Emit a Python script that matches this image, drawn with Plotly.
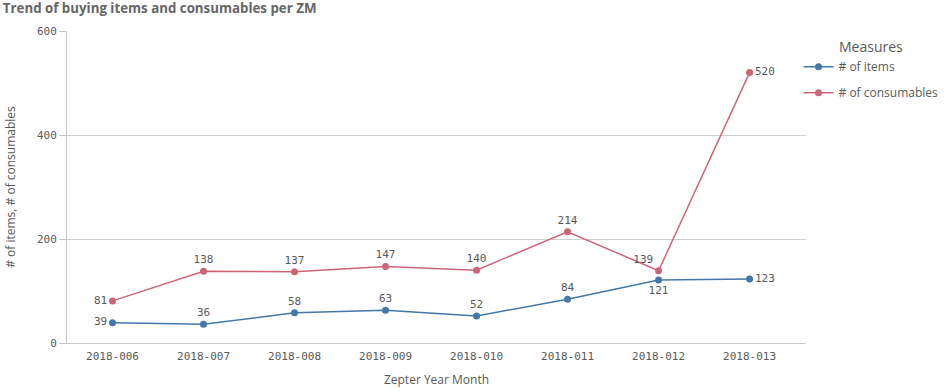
import plotly.graph_objects as go

months = ["2018-006", "2018-007", "2018-008", "2018-009", "2018-010", "2018-011", "2018-012", "2018-013"]
items = [39, 36, 58, 63, 52, 84, 121, 123]
consumables = [81, 138, 137, 147, 140, 214, 139, 520]
y_ticks = [0, 200, 400, 600]

items_pos = ["middle left", "top center", "top center", "top center", "top center", "top center", "bottom center", "middle right"]
cons_pos = ["middle left", "top center", "top center", "top center", "top center", "top center", "top left", "middle right"]

BLUE = "#4477aa"
RED = "#cc6677"
GRAY = "#595959"
MONO = "DejaVu Sans Mono"
SANS = "Open Sans"

fig = go.Figure()
fig.add_trace(go.Scatter(
    x=months, y=items, name="# of items", mode="lines+markers+text",
    legendgroup="items",
    line=dict(color=BLUE, width=1.5), marker=dict(color=BLUE, size=7),
    text=[str(v) for v in items], textposition=items_pos,
    textfont=dict(family=MONO, size=11, color=GRAY), cliponaxis=False,
))
fig.add_trace(go.Scatter(
    x=months, y=consumables, name="# of consumables", mode="lines+markers+text",
    legendgroup="consumables",
    line=dict(color=RED, width=1.5), marker=dict(color=RED, size=7),
    text=[str(v) for v in consumables], textposition=cons_pos,
    textfont=dict(family=MONO, size=11, color=GRAY), cliponaxis=False,
))

fig.update_layout(
    width=945, height=392,
    margin=dict(l=67, r=139, t=31, b=49, autoexpand=False),
    paper_bgcolor="white", plot_bgcolor="white",
    title=dict(text="<b>Trend of buying items and consumables per ZM</b>",
               x=0.003, xanchor="left", y=0.99, yanchor="top",
               font=dict(family=SANS, size=13.3, color="#666666")),
    legend=dict(title=dict(text="Measures", side="top center",
                           font=dict(family=SANS, size=14, color=GRAY)),
                font=dict(family=SANS, size=12, color=GRAY),
                xref="container", yref="container",
                x=0.845, xanchor="left", y=0.913, yanchor="top",
                itemwidth=30, tracegroupgap=7, bgcolor="rgba(0,0,0,0)"),
    xaxis=dict(type="category", range=[-0.5, 7.62], showgrid=False,
               showline=True, linecolor="#c8c8c8", linewidth=1,
               ticks="", ticklabelstandoff=3,
               tickfont=dict(family=MONO, size=11, color=GRAY),
               automargin=False,
               title=dict(text="Zepter Year Month", standoff=13,
                          font=dict(family=SANS, size=12, color=GRAY))),
    yaxis=dict(range=[0, 600], tickvals=y_ticks, showgrid=True,
               gridcolor="#d0d0d0", gridwidth=1, zeroline=False,
               showline=True, linecolor="#c8c8c8", linewidth=1,
               ticks="outside", ticklen=7, tickcolor="#c8c8c8",
               tickfont=dict(family=MONO, size=11, color=GRAY),
               automargin=False,
               title=dict(text="# of items, # of consumables", standoff=18,
                          font=dict(family=SANS, size=12, color=GRAY))),
)

fig.write_html("out.html", config={"displayModeBar": False},
               post_script="document.body.style.margin='0';document.body.style.overflow='hidden';")
